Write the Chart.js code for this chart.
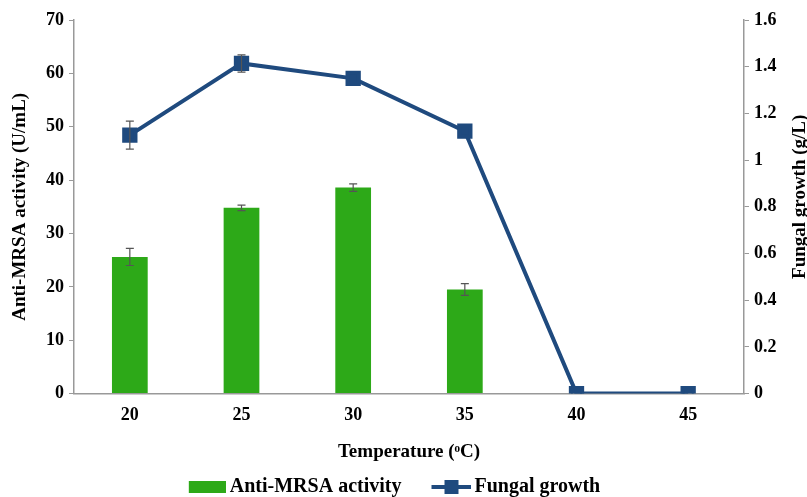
<!DOCTYPE html>
<html>
<head>
<meta charset="utf-8">
<script src="https://cdn.jsdelivr.net/npm/chart.js@4"></script>
<style>
  html, body { margin: 0; padding: 0; background: #fff; }
  #wrap { width: 807px; height: 497px; }
</style>
</head>
<body>
<div id="wrap"><canvas id="grafico"></canvas></div>
<script>
const temperaturas = ['20', '25', '30', '35', '40', '45'];
const atividade = [25.6, 34.8, 38.6, 19.5, null, null];
const atividadeErro = [1.6, 0.5, 0.7, 1.1, null, null];
const crescimento = [1.107, 1.414, 1.35, 1.124, 0, 0];
const crescimentoErro = [0.06, 0.037, 0, 0, 0, 0];

const verde = '#2DA918';
const azul = '#1F4A7E';
const fonte = "'Liberation Serif', 'Times New Roman', serif";

// icones da legenda (deslocados para a direita para encostar no texto)
function iconeBarra() {
  const c = document.createElement('canvas');
  c.width = 50; c.height = 12;
  const g = c.getContext('2d');
  g.fillStyle = verde;
  g.fillRect(13, 0, 37, 12);
  return c;
}
function iconeLinha() {
  const c = document.createElement('canvas');
  c.width = 52; c.height = 14;
  const g = c.getContext('2d');
  g.strokeStyle = azul;
  g.lineWidth = 4;
  g.beginPath(); g.moveTo(12, 7); g.lineTo(52, 7); g.stroke();
  g.fillStyle = azul;
  g.fillRect(25, 0, 14, 14);
  return c;
}

const barrasErro = {
  id: 'barrasErro',
  afterDatasetsDraw(chart) {
    const ctx = chart.ctx;
    const x = chart.scales.x;
    ctx.save();
    ctx.strokeStyle = '#555';
    ctx.lineWidth = 1.2;
    const desenha = (valores, erros, escala) => {
      valores.forEach((v, i) => {
        const e = erros[i];
        if (v == null || !e) return;
        const px = x.getPixelForValue(i);
        const y1 = escala.getPixelForValue(v + e);
        const y2 = escala.getPixelForValue(v - e);
        ctx.beginPath();
        ctx.moveTo(px, y1); ctx.lineTo(px, y2);
        ctx.moveTo(px - 4, y1); ctx.lineTo(px + 4, y1);
        ctx.moveTo(px - 4, y2); ctx.lineTo(px + 4, y2);
        ctx.stroke();
      });
    };
    desenha(atividade, atividadeErro, chart.scales.y);
    desenha(crescimento, crescimentoErro, chart.scales.y1);
    ctx.restore();
  }
};

// titulo do eixo direito, lido de baixo para cima como no original
const tituloDireito = {
  id: 'tituloDireito',
  afterDraw(chart) {
    const ctx = chart.ctx;
    const a = chart.chartArea;
    ctx.save();
    ctx.translate(800, (a.top + a.bottom) / 2 - 10);
    ctx.rotate(-Math.PI / 2);
    ctx.font = 'bold 19px ' + fonte;
    ctx.fillStyle = '#000';
    ctx.textAlign = 'center';
    ctx.textBaseline = 'middle';
    ctx.fillText('Fungal growth (g/L)', 0, 0);
    ctx.restore();
  }
};

const ctx = document.getElementById('grafico').getContext('2d');

let grafico = new Chart(ctx, {
  type: 'bar',
  data: {
    labels: temperaturas,
    datasets: [{
        label: 'Anti-MRSA activity',
        data: atividade,
        backgroundColor: verde,
        borderWidth: 0,
        barPercentage: 0.32,
        categoryPercentage: 1,
        yAxisID: 'y',
        order: 2
      },
      {
        type: 'line',
        label: 'Fungal growth',
        data: crescimento,
        borderColor: azul,
        backgroundColor: azul,
        borderWidth: 4,
        pointStyle: 'rect',
        pointRadius: 8,
        pointHoverRadius: 8,
        tension: 0,
        yAxisID: 'y1',
        order: 1
      }
    ]
  },
  options: {
    responsive: true,
    maintainAspectRatio: false,
    animation: false,
    layout: { padding: { top: 20, right: 0, left: 0, bottom: -10 } },
    plugins: {
      tooltip: { enabled: false },
      legend: {
        position: 'bottom',
        labels: {
          usePointStyle: true,
          pointStyleWidth: 38,
          padding: 0,
          color: '#000',
          font: { family: fonte, size: 20, weight: 'bold', lineHeight: 1 },
          generateLabels(chart) {
            return [
              { text: 'Anti-MRSA activity     ', pointStyle: iconeBarra(), fillStyle: verde, strokeStyle: verde, lineWidth: 0, datasetIndex: 0 },
              { text: 'Fungal growth     ', pointStyle: iconeLinha(), fillStyle: azul, strokeStyle: azul, lineWidth: 0, datasetIndex: 1 }
            ];
          }
        }
      }
    },
    scales: {
      x: {
        offset: true,
        grid: { display: false, drawTicks: false },
        border: { color: '#999', width: 1.5 },
        ticks: { color: '#000', padding: 11, font: { family: fonte, size: 18, weight: 'bold' } },
        title: { display: true, text: 'Temperature (ᵒC)', color: '#000', padding: { top: 3, bottom: 14 }, font: { family: fonte, size: 19, weight: 'bold' } }
      },
      y: {
        position: 'left',
        min: 0, max: 70,
        ticks: { stepSize: 10, color: '#000', padding: 5, font: { family: fonte, size: 18, weight: 'bold' } },
        grid: { display: true, drawOnChartArea: false, drawTicks: true, tickLength: 5, color: '#999' },
        border: { color: '#999', width: 1.5 },
        title: { display: true, text: 'Anti-MRSA activity (U/mL)', color: '#000', padding: { top: 9, bottom: 0 }, font: { family: fonte, size: 19, weight: 'bold' } },
        afterFit(s) { s.width = 74; }
      },
      y1: {
        position: 'right',
        min: 0, max: 1.6,
        ticks: { stepSize: 0.2, color: '#000', padding: 5, font: { family: fonte, size: 18, weight: 'bold' },
          callback: v => Math.round(v * 10) / 10 },
        grid: { display: true, drawOnChartArea: false, drawTicks: true, tickLength: 5, color: '#999' },
        border: { color: '#999', width: 1.5 },
        title: { display: false },
        afterFit(s) { s.width = 63; }
      }
    }
  },
  plugins: [barrasErro, tituloDireito]
});
</script>
</body>
</html>
